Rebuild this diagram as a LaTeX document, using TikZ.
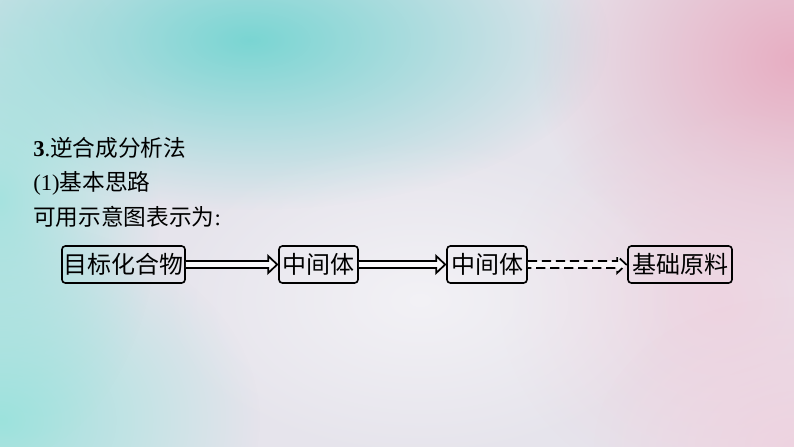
\documentclass[tikz,border=0pt]{standalone}
\usepackage{fontspec}
\setmainfont{Liberation Serif}
\newfontfamily\cjk{Noto Sans CJK SC}
\usetikzlibrary{arrows.meta,fadings,shadings,calc}
\definecolor{bgbase}{RGB}{230,228,236}
\definecolor{tealblob}{RGB}{110,212,208}
\definecolor{teallight}{RGB}{150,226,220}
\definecolor{pinkblob}{RGB}{232,168,190}
\definecolor{pinklight}{RGB}{240,208,222}
\tikzfading[name=softcircle, inner color=transparent!0, outer color=transparent!100]
\tikzset{
  blob/.style={path fading=softcircle, fill=#1},
  flowbox/.style={draw=black, line width=1.2pt, rounded corners=2.5pt,
    inner sep=0pt, minimum height=37*0.75pt, font=\cjk\fontsize{18}{20}\selectfont},
  hollowarrow/.style={draw=black, line width=1.3pt, fill=white, fill opacity=0.7, draw opacity=1, line join=miter},
  headtext/.style={anchor=west, inner sep=0pt, font=\fontsize{17}{19}\selectfont},
}
\newcommand{\hollowarr}[3][]{%
  \fill[white, fill opacity=0.7] ($(#2.east)+(0,-3.5)$) -- ($(#3.west)+(-10,-3.5)$) -- ($(#3.west)+(-10,-8.5)$) -- ($(#3.west)+(-1,0)$) -- ($(#3.west)+(-10,8.5)$) -- ($(#3.west)+(-10,3.5)$) -- ($(#2.east)+(0,3.5)$) -- cycle;
  \draw[hollowarrow, fill=none, #1] ($(#2.east)+(0,-3.5)$) -- ($(#3.west)+(-10,-3.5)$) -- ($(#3.west)+(-10,-8.5)$) -- ($(#3.west)+(-1,0)$) -- ($(#3.west)+(-10,8.5)$) -- ($(#3.west)+(-10,3.5)$) -- ($(#2.east)+(0,3.5)$);}
\begin{document}
\begin{tikzpicture}[x=0.75pt,y=-0.75pt]
\useasboundingbox (0,0) rectangle (794,447);
% background
\fill[bgbase] (0,0) rectangle (794,447);
\begin{scope}
\clip (0,0) rectangle (794,447);
\fill[blob=tealblob, fill opacity=0.9] (250,40) ellipse (360 and 170);
\fill[blob=teallight, fill opacity=0.9] (0,420) ellipse (260 and 200);
\fill[blob=teallight, fill opacity=0.8] (0,200) ellipse (160 and 260);
\fill[blob=pinkblob, fill opacity=0.9] (794,60) ellipse (260 and 220);
\fill[blob=pinklight, fill opacity=0.8] (720,300) ellipse (220 and 200);
\fill[blob=pinklight, fill opacity=0.8] (794,447) ellipse (200 and 150);
\fill[blob=white, fill opacity=0.5] (420,300) ellipse (260 and 160);
\end{scope}
% texts
\node[headtext] (t1) at (33,148) {\textbf{3}.{\cjk 逆合成分析法}};
\node[headtext] (t2) at (33,183) {(1){\cjk 基本思路}};
\node[headtext] (t3) at (33,217) {{\cjk 可用示意图表示为}:};
% boxes
\node[flowbox, minimum width=123*0.75pt] (b1) at (123.5,264.5) {目标化合物};
\node[flowbox, minimum width=79*0.75pt] (b2) at (318.5,264.5) {中间体};
\node[flowbox, minimum width=80*0.75pt] (b3) at (487,264.5) {中间体};
\node[flowbox, minimum width=104*0.75pt] (b4) at (680,264.5) {基础原料};
% arrows
\hollowarr{b1}{b2}
\hollowarr{b2}{b3}
\hollowarr[dash pattern=on 7pt off 3.5pt]{b3}{b4}
\end{tikzpicture}
\end{document}
